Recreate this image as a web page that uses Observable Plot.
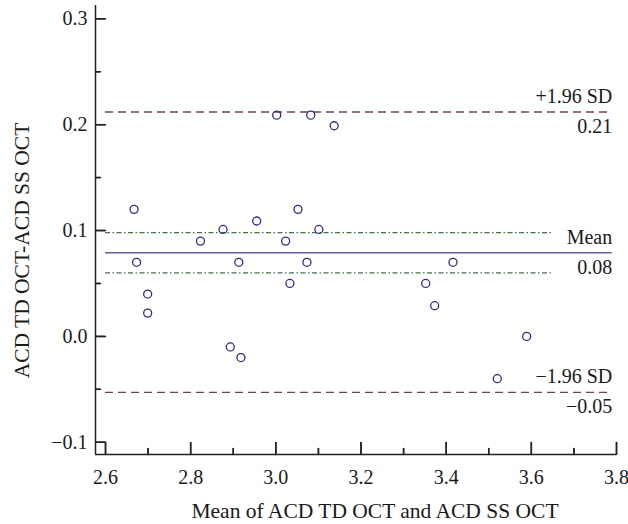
<!DOCTYPE html>
<html><head><meta charset="utf-8">
<script src="https://cdn.jsdelivr.net/npm/d3@7"></script>
<script src="https://cdn.jsdelivr.net/npm/@observablehq/plot@0.6"></script>
<style>body{margin:0;background:#fff}</style>
</head><body><div id="chart"></div>
<script>
// Mean of the two measurements (x) and their difference (y)
const xMeans = [2.667, 2.823, 2.876, 2.955, 3.002, 3.023, 3.052, 3.082, 3.101, 3.137, 2.673, 2.699, 2.699, 2.893, 2.913, 2.918, 3.033, 3.073, 3.416, 3.352, 3.373, 3.589, 3.520];
const yDiffs = [0.120, 0.090, 0.101, 0.109, 0.209, 0.090, 0.120, 0.209, 0.101, 0.199, 0.070, 0.040, 0.022, -0.010, 0.070, -0.020, 0.050, 0.070, 0.070, 0.050, 0.029, 0.000, -0.040];
const xDomain = [2.5765, 3.8];
const yDomain = [-0.1116, 0.3126];
const xMajor = [2.6, 2.8, 3.0, 3.2, 3.4, 3.6, 3.8];
const xMinor = [2.7, 2.9, 3.1, 3.3, 3.5, 3.7];
const yMajor = [-0.1, 0.0, 0.1, 0.2, 0.3];
const yMinor = [-0.05, 0.05, 0.15, 0.25];
const sdValues = [0.212, -0.053];
const meanValue = [0.079];
const limitValues = [0.212, 0.079, -0.053];
const limitTop = ["+1.96 SD", "Mean", "\u22121.96 SD"];
const limitBottom = ["0.21", "0.08", "\u22120.05"];
const ciValues = [0.098, 0.060];
const lineRange = [2.6, 3.79];
const ciRange = [2.6, 3.65];
const xTitle = "Mean of ACD TD OCT and ACD SS OCT";
const yTitle = "ACD TD OCT-ACD SS OCT";

const points = xMeans.map((x, i) => ({x, y: yDiffs[i]}));
const limits = limitValues.map((v, i) => ({v, top: limitTop[i], bottom: limitBottom[i]}));
const fmt = d3.format(".1f");
const axisStyle = {label: null, stroke: "#222", strokeWidth: 1.5};
const tickShape = {draw(context, l) { context.moveTo(0, 0); context.lineTo(0, -l); }};
const tickStyle = {anchor: "start", shape: tickShape, stroke: "#222", strokeWidth: 1.5};
const ruleTick = {stroke: "#222", strokeWidth: 1.5};

const chart = Plot.plot({
  width: 628,
  height: 524,
  marginLeft: 95,
  marginRight: 12,
  marginTop: 5,
  marginBottom: 70,
  style: {fontFamily: "'Liberation Serif', 'DejaVu Serif', serif", fontSize: "20px", color: "#1a1a1a", background: "#fff"},
  x: {domain: xDomain},
  y: {domain: yDomain},
  marks: [
    Plot.ruleY(sdValues, {x1: lineRange[0], x2: lineRange[1], stroke: "#6e4646", strokeWidth: 1.3, strokeDasharray: "8,5"}),
    Plot.ruleY(ciValues, {x1: ciRange[0], x2: ciRange[1], stroke: "#4a6e48", strokeWidth: 1.3, strokeDasharray: "5,2.5,1.5,2.5"}),
    Plot.ruleY(meanValue, {x1: lineRange[0], x2: lineRange[1], stroke: "#6464a0", strokeWidth: 1.4}),
    Plot.dot(points, {x: "x", y: "y", r: 4, stroke: "#2e2e80", strokeWidth: 1.3, fill: "none"}),
    Plot.text(limits, {x: lineRange[1], y: "v", text: "top", textAnchor: "end", lineAnchor: "bottom", dy: -9, fill: "#1a1a1a"}),
    Plot.text(limits, {x: lineRange[1], y: "v", text: "bottom", textAnchor: "end", lineAnchor: "bottom", dy: 21, fill: "#1a1a1a"}),
    Plot.ruleX([xDomain[0]], {stroke: "#222", strokeWidth: 1.5}),
    Plot.ruleY([yDomain[0]], {stroke: "#222", strokeWidth: 1.5}),
    // inward ticks (vectors) with matching short rules underneath
    Plot.vector(yMajor, {...tickStyle, x: xDomain[0], y: d => d, length: 10, rotate: 90}),
    Plot.vector(yMinor, {...tickStyle, x: xDomain[0], y: d => d, length: 5, rotate: 90}),
    Plot.vector(xMajor, {...tickStyle, x: d => d, y: yDomain[0], length: 12, rotate: 0}),
    Plot.vector(xMinor, {...tickStyle, x: d => d, y: yDomain[0], length: 6, rotate: 0}),
    Plot.ruleY(yMajor, {...ruleTick, y: d => d, x1: xDomain[0], x2: xDomain[0], insetRight: -10}),
    Plot.ruleY(yMinor, {...ruleTick, y: d => d, x1: xDomain[0], x2: xDomain[0], insetRight: -5}),
    Plot.ruleX(xMajor, {...ruleTick, x: d => d, y1: yDomain[0], y2: yDomain[0], insetTop: -12}),
    Plot.ruleX(xMinor, {...ruleTick, x: d => d, y1: yDomain[0], y2: yDomain[0], insetTop: -6}),
    Plot.axisY(yMajor, {...axisStyle, tickSize: 0, tickPadding: 8, tickFormat: fmt}),
    Plot.axisX(xMajor, {...axisStyle, tickSize: 0, tickPadding: 15, tickFormat: fmt}),
    Plot.text([xTitle], {text: d => d, frameAnchor: "bottom", textAnchor: "middle", dx: 19, dy: 63, lineAnchor: "bottom", fontSize: 21.5, fill: "#1a1a1a"}),
    Plot.text([yTitle], {text: d => d, frameAnchor: "left", textAnchor: "middle", lineAnchor: "middle", rotate: -90, dx: -73, dy: 20.5, fontSize: 21.5, fill: "#1a1a1a"})
  ]
});
document.getElementById("chart").appendChild(chart);
</script>
</body></html>
